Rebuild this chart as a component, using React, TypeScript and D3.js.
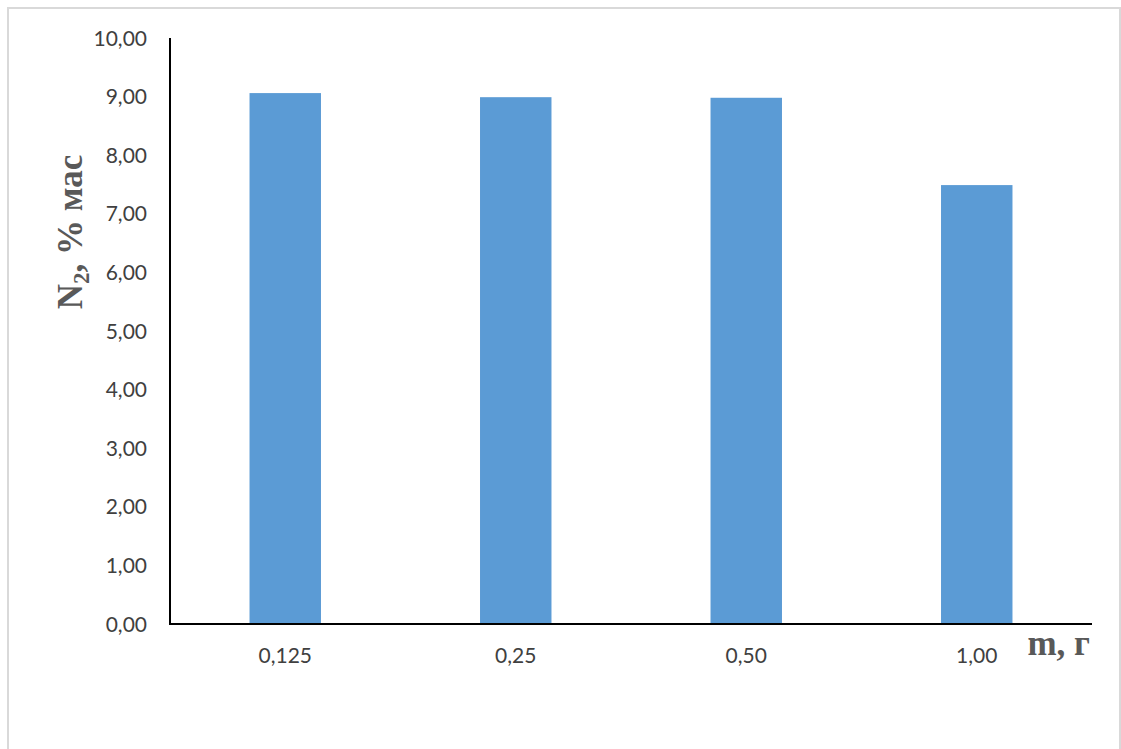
import React from "react";
import * as d3 from "d3";

const categories = ["0,125", "0,25", "0,50", "1,00"];
const values = [9.06, 8.99, 8.98, 7.49];
const yTicks = [0, 1, 2, 3, 4, 5, 6, 7, 8, 9, 10];

export default function App() {
  const W = 1121, H = 749;
  const left = 170, right = 1092, top = 38, bottom = 624;
  const x = d3.scaleBand<string>().domain(categories).range([left, right]).paddingInner(0.69).paddingOuter(0.345);
  const y = d3.scaleLinear().domain([0, 10]).range([bottom, top]);
  const fmt = (v: number) => v.toFixed(2).replace(".", ",");
  const tickFont = "Lato, 'Open Sans', sans-serif";
  return (
    <svg width={W} height={H} style={{ position: "absolute", left: 0, top: 0, background: "#fff" }}>
      <rect x={8} y={8} width={1112} height={760} fill="#fff" stroke="#d9d9d9" strokeWidth={2} />
      {categories.map((c, i) => (
        <rect key={c} x={x(c)} y={y(values[i])} width={x.bandwidth()} height={bottom - y(values[i])} fill="#5b9bd5" />
      ))}
      <line x1={left} x2={left} y1={top} y2={bottom + 1} stroke="#000" strokeWidth={2} />
      <line x1={left - 1} x2={right} y1={bottom} y2={bottom} stroke="#000" strokeWidth={2} />
      {yTicks.map((t) => (
        <text key={t} x={147} y={y(t)} dy="0.36em" textAnchor="end" fontFamily={tickFont} fontSize={21} fill="#404040">
          {fmt(t)}
        </text>
      ))}
      {categories.map((c) => (
        <text key={c} x={(x(c) as number) + x.bandwidth() / 2} y={663} textAnchor="middle" fontFamily={tickFont} fontSize={21} fill="#404040">
          {c}
        </text>
      ))}
      <text transform="translate(82,232) rotate(-90)" textAnchor="middle" fontFamily="'Liberation Serif', serif" fontWeight="bold" fontSize={35} fill="#595959">
        N<tspan fontSize={23} dy={7}>2</tspan><tspan dy={-7}>, % мас</tspan>
      </text>
      <text x={1090} y={655} textAnchor="end" fontFamily="'Liberation Serif', serif" fontWeight="bold" fontSize={35} fill="#595959">
        m, г
      </text>
    </svg>
  );
}
